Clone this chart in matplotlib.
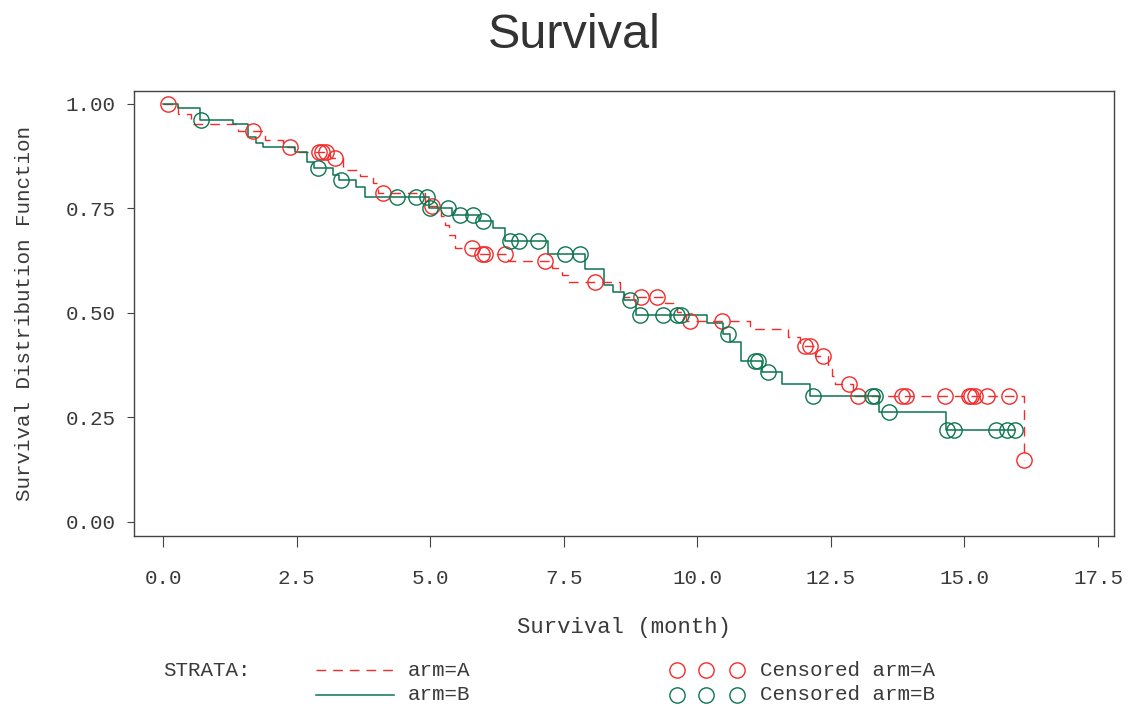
import numpy as np
import matplotlib
matplotlib.use("Agg")
import matplotlib.pyplot as plt
from matplotlib.lines import Line2D

# ---- data ----
# arm A: step times and survival after each step
a_times = [0.0, 0.28, 0.52, 1.40, 1.90, 2.25, 2.45, 3.12, 3.37, 3.69, 3.93, 4.02, 4.90,
           5.20, 5.28, 5.35, 5.47, 5.90, 6.45, 7.28, 7.47, 7.58, 8.55, 8.62, 9.40, 9.62,
           9.78, 10.99, 11.70, 11.92, 12.20, 12.45, 12.52, 12.58, 12.92, 16.11]
a_surv = [1.000, 0.976, 0.952, 0.936, 0.914, 0.897, 0.885, 0.871, 0.842, 0.828, 0.811,
          0.787, 0.756, 0.733, 0.710, 0.687, 0.656, 0.641, 0.624, 0.608, 0.591, 0.574,
          0.555, 0.538, 0.523, 0.502, 0.481, 0.462, 0.443, 0.421, 0.397, 0.373, 0.350,
          0.330, 0.301, 0.148]
a_cens = [0.09, 1.68, 2.38, 2.92, 2.98, 3.05, 3.22, 4.12, 5.03, 5.78, 5.97, 6.03, 6.40,
          7.15, 8.09, 8.95, 9.25, 9.86, 10.46, 12.02, 12.11, 12.35, 12.84, 13.01, 13.83,
          13.90, 14.64, 15.08, 15.13, 15.19, 15.42, 15.83, 16.11]
a_end = 16.11

# arm B
b_times = [0.0, 0.28, 0.69, 1.31, 1.59, 1.74, 1.87, 2.47, 2.70, 2.82, 3.19, 3.30, 3.62,
           3.78, 4.98, 5.40, 5.92, 6.18, 6.40, 7.21, 7.90, 8.25, 8.42, 8.63, 8.85, 10.18,
           10.48, 10.62, 10.81, 11.21, 11.58, 12.11, 13.40, 14.65]
b_surv = [1.000, 0.990, 0.962, 0.952, 0.921, 0.907, 0.897, 0.885, 0.861, 0.847, 0.830,
          0.818, 0.801, 0.778, 0.751, 0.734, 0.720, 0.703, 0.672, 0.640, 0.605, 0.567,
          0.550, 0.531, 0.495, 0.476, 0.450, 0.431, 0.385, 0.359, 0.330, 0.301, 0.263,
          0.220]
b_cens = [0.72, 2.90, 3.33, 4.38, 4.73, 4.94, 5.00, 5.33, 5.56, 5.80, 5.99, 6.49, 6.66,
          7.02, 7.52, 7.80, 8.74, 8.93, 9.36, 9.62, 9.69, 10.57, 11.08, 11.14, 11.32,
          12.17, 13.27, 13.33, 13.59, 14.67, 14.80, 15.59, 15.80, 15.95]
b_end = 15.95

x_ticks = [0.0, 2.5, 5.0, 7.5, 10.0, 12.5, 15.0, 17.5]
y_ticks = [0.00, 0.25, 0.50, 0.75, 1.00]

RED = "#f52a2a"
GREEN = "#0c7550"
TXT = "#3a3a3a"
MONO = ["Liberation Mono", "DejaVu Sans Mono"]


def step_xy(times, surv, end):
    t = list(times)
    s = list(surv)
    if end > t[-1]:
        t.append(end)
        s.append(s[-1])
    return np.array(t), np.array(s)


def at(times, surv, pts):
    times = np.asarray(times)
    idx = np.searchsorted(times, pts, side="right") - 1
    return np.asarray(surv)[idx]


fig = plt.figure(figsize=(11.31, 7.09), dpi=100)
ax = fig.add_axes([134 / 1131, 1 - 536 / 709, (1114 - 134) / 1131, (536 - 91) / 709])

ta, sa = step_xy(a_times, a_surv, a_end)
tb, sb = step_xy(b_times, b_surv, b_end)
ax.step(ta, sa, where="post", color=RED, lw=1.0, linestyle=(0, (7, 5)), zorder=2)
ax.step(tb, sb, where="post", color=GREEN, lw=1.1, zorder=3)
ax.plot(a_cens, at(a_times, a_surv, a_cens), "o", ms=11, mfc="none", mec=RED, mew=1.0, zorder=4)
ax.plot(b_cens, at(b_times, b_surv, b_cens), "o", ms=11, mfc="none", mec=GREEN, mew=1.0, zorder=5)

ax.set_xlim(-0.543, 17.80)
ax.set_ylim(-0.0335, 1.031)
ax.set_xticks(x_ticks)
ax.set_xticklabels([f"{v:.1f}" for v in x_ticks])
ax.set_yticks(y_ticks)
ax.set_yticklabels([f"{v:.2f}" for v in y_ticks])
for sp in ax.spines.values():
    sp.set_color("#444444")
    sp.set_linewidth(1.0)
ax.tick_params(axis="x", length=8, width=0.8, color="#444444", pad=16, labelsize=15,
               labelcolor=TXT)
ax.tick_params(axis="y", length=5, width=0.8, color="#444444", pad=8, labelsize=15,
               labelcolor=TXT)
for lab in ax.get_xticklabels() + ax.get_yticklabels():
    lab.set_family(MONO)

ax.set_xlabel("Survival (month)", family=MONO, fontsize=16, color=TXT, labelpad=21)
ax.set_ylabel("Survival Distribution Function", family=MONO, fontsize=15, color=TXT,
              labelpad=23)

fig.text(574.5 / 1131, 1 - 36 / 709, "Survival", ha="center", va="center",
         fontsize=35, color="#333333", family=["Liberation Sans", "DejaVu Sans"])

# legend
def fx(px):
    return px / 1131


def fy(py):
    return 1 - py / 709


fig.text(fx(163), fy(670), "STRATA:", family=MONO, fontsize=15, color=TXT, va="center")
fig.add_artist(Line2D([fx(316), fx(397)], [fy(670), fy(670)], color=RED, lw=1.0,
                      linestyle=(0, (7, 5))))
fig.text(fx(408), fy(670), "arm=A", family=MONO, fontsize=15, color=TXT, va="center")
fig.add_artist(Line2D([fx(316), fx(394)], [fy(695), fy(695)], color=GREEN, lw=1.1))
fig.text(fx(408), fy(695), "arm=B", family=MONO, fontsize=15, color=TXT, va="center")
for cx in (677, 706, 737):
    fig.add_artist(Line2D([fx(cx)], [fy(670)], marker="o", ms=11, mfc="none", mec=RED,
                          mew=1.0))
    fig.add_artist(Line2D([fx(cx)], [fy(695)], marker="o", ms=11, mfc="none", mec=GREEN,
                          mew=1.0))
fig.text(fx(760), fy(670), "Censored arm=A", family=MONO, fontsize=15, color=TXT, va="center")
fig.text(fx(760), fy(695), "Censored arm=B", family=MONO, fontsize=15, color=TXT, va="center")

fig.savefig("out.png", dpi=100)
